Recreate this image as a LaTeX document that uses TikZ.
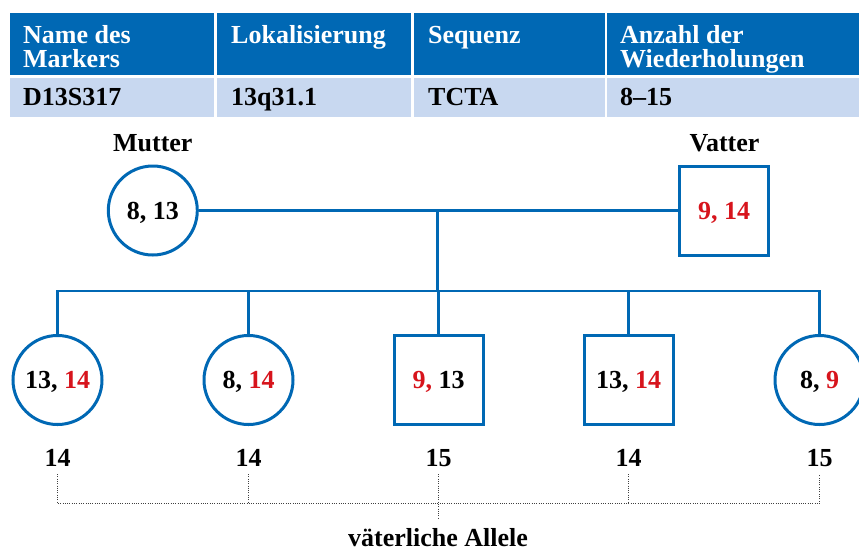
\documentclass[tikz,border=0pt]{standalone}
\usepackage{fontspec}
\setmainfont{Liberation Serif}
\definecolor{pblue}{HTML}{0068B4}
\definecolor{plight}{HTML}{C8D8F0}
\definecolor{pred}{HTML}{D7141C}
\newcommand{\rd}[1]{\textcolor{pred}{#1}}
\begin{document}
\begin{tikzpicture}[x=1pt,y=-1pt, font=\fontsize{26}{24}\selectfont\bfseries,
  fem/.style={circle, draw=pblue, line width=3pt, minimum size=89pt, inner sep=0pt, text depth=0pt},
  male/.style={rectangle, draw=pblue, line width=3pt, minimum size=89pt, inner sep=0pt, text depth=0pt},
  link/.style={draw=pblue, line width=2.6pt},
  dots/.style={draw=black!75, line width=1pt, dash pattern=on 1pt off 1.3pt},
  lbl/.style={inner sep=0pt, anchor=base},
  hd/.style={inner sep=0pt, anchor=base west, text=white},
  cell/.style={inner sep=0pt, anchor=base west}]
\useasboundingbox (0,0) rectangle (859,550);
% table
\fill[pblue] (10,13) rectangle (214,75);
\fill[pblue] (217,13) rectangle (411,75);
\fill[pblue] (414,13) rectangle (604.5,75);
\fill[pblue] (607,13) rectangle (859,75);
\fill[plight] (10,78) rectangle (214,117);
\fill[plight] (217,78) rectangle (411,117);
\fill[plight] (414,78) rectangle (604.5,117);
\fill[plight] (607,78) rectangle (859,117);
\node[hd] (h1a) at (23,43.3) {Name des};
\node[hd] (h1b) at (23,67) {Markers};
\node[hd] (h2) at (231,43.3) {Lokalisierung};
\node[hd] (h3) at (428,43.3) {Sequenz};
\node[hd] (h4a) at (620,43.3) {Anzahl der};
\node[hd] (h4b) at (620,67) {Wiederholungen};
\node[cell] (r1) at (23,105) {D13S317};
\node[cell] (r2) at (231,105) {13q31.1};
\node[cell] (r3) at (428,105) {TCTA};
\node[cell] (r4) at (620,105) {8–15};
% parents
\node[lbl] (mul) at (152.8,151.7) {Mutter};
\node[lbl] (val) at (724.5,151.7) {Vatter};
\node[fem] (mu) at (152.8,210.5) {8, 13};
\node[male] (va) at (724,210.5) {\rd{9, 14}};
% children
\node[fem] (c1) at (57.5,380) {13, \rd{14}};
\node[fem] (c2) at (248.5,380) {8, \rd{14}};
\node[male] (c3) at (438.5,380) {\rd{9,} 13};
\node[male] (c4) at (628.5,380) {13, \rd{14}};
\node[fem] (c5) at (819.5,380) {8, \rd{9}};
% numbers
\node[lbl] (n1) at (57.5,466) {14};
\node[lbl] (n2) at (248.5,466) {14};
\node[lbl] (n3) at (438.5,466) {15};
\node[lbl] (n4) at (628.5,466) {14};
\node[lbl] (n5) at (819.5,466) {15};
\node[lbl] (al) at (438,546) {väterliche Allele};
% connectors
\coordinate (mid) at (437.7,210.5);
\coordinate (sib) at (437.7,291);
\coordinate (s1) at (57.5,291);
\coordinate (s2) at (248.5,291);
\coordinate (s3) at (438.5,291);
\coordinate (s4) at (628.5,291);
\coordinate (s5) at (819.5,291);
\draw[link] (mu.east) -- (va.west);
\draw[link] (mid) -- (sib);
\draw[link] (c1.north) -- (s1) -- (s5) -- (c5.north);
\draw[link] (s2) -- (c2.north);
\draw[link] (s3) -- (c3.north);
\draw[link] (s4) -- (c4.north);
% dotted
\coordinate (d1) at (57.5,503.5);
\coordinate (d2) at (248.5,503.5);
\coordinate (d4) at (628.5,503.5);
\coordinate (d5) at (819.5,503.5);
\draw[dots] ([yshift=-8pt]n1.base) -- (d1) -- (d5) -- ([yshift=-8pt]n5.base);
\draw[dots] ([yshift=-8pt]n2.base) -- (d2);
\draw[dots] ([yshift=-8pt]n4.base) -- (d4);
\draw[dots] ([yshift=-8pt]n3.base) -- ([yshift=8pt]n3.base |- al.north);
\end{tikzpicture}
\end{document}
